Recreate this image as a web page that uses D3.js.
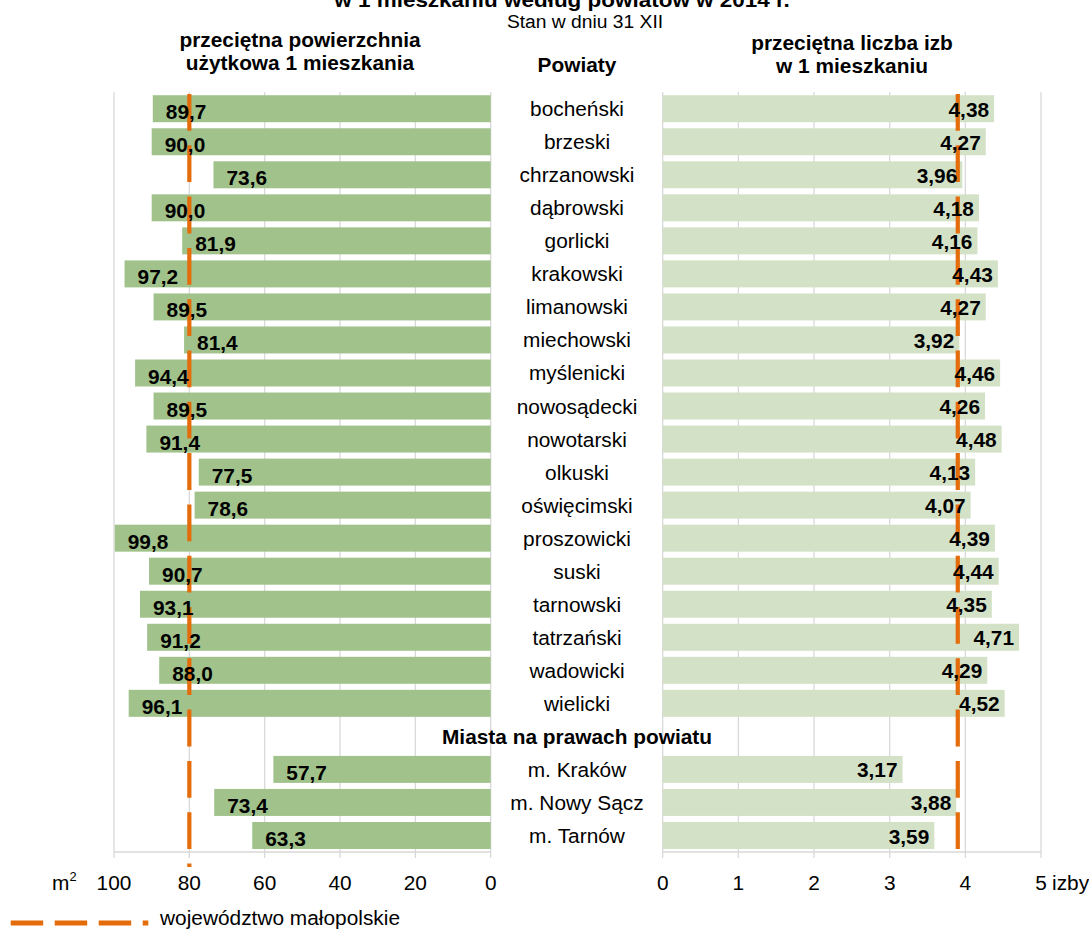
<!DOCTYPE html>
<html>
<head>
<meta charset="utf-8">
<script src="https://cdn.jsdelivr.net/npm/d3@7"></script>
<style>
  body { margin: 0; background: #fff; }
  svg { display: block; font-family: "Liberation Sans", Arial, sans-serif; }
</style>
</head>
<body>
<div id="chart"></div>
<script>
// powiaty (wiersz nagłówka miast ma wartość null)
const categories = [
  'bocheński', 'brzeski', 'chrzanowski', 'dąbrowski', 'gorlicki', 'krakowski',
  'limanowski', 'miechowski', 'myślenicki', 'nowosądecki', 'nowotarski', 'olkuski',
  'oświęcimski', 'proszowicki', 'suski', 'tarnowski', 'tatrzański', 'wadowicki',
  'wielicki', 'Miasta na prawach powiatu', 'm. Kraków', 'm. Nowy Sącz', 'm. Tarnów'
];
// przeciętna powierzchnia użytkowa 1 mieszkania, m2
const powierzchnia = [
  89.7, 90.0, 73.6, 90.0, 81.9, 97.2, 89.5, 81.4, 94.4, 89.5, 91.4, 77.5,
  78.6, 99.8, 90.7, 93.1, 91.2, 88.0, 96.1, null, 57.7, 73.4, 63.3
];
// przeciętna liczba izb w 1 mieszkaniu
const izby = [
  4.38, 4.27, 3.96, 4.18, 4.16, 4.43, 4.27, 3.92, 4.46, 4.26, 4.48, 4.13,
  4.07, 4.39, 4.44, 4.35, 4.71, 4.29, 4.52, null, 3.17, 3.88, 3.59
];
// województwo małopolskie
const avgPowierzchnia = 80.0;
const avgIzby = 3.9;

const ticksL = [100, 80, 60, 40, 20, 0];
const ticksR = [0, 1, 2, 3, 4, 5];

const width = 1089, height = 929;
const SX = 1.07;         // lekkie rozciągnięcie tekstu w poziomie
const FS = 19.5;
const orange = '#E46C0A';
const grid = '#D9D9D9';

const svg = d3.select('#chart').append('svg')
  .attr('width', width)
  .attr('height', height);

function txt(x, y, s, anchor, size, weight) {
  return svg.append('text')
    .attr('transform', `translate(${x},${y}) scale(${SX},1)`)
    .attr('text-anchor', anchor || 'middle')
    .attr('font-size', size || FS)
    .attr('font-weight', weight || 'normal')
    .attr('fill', '#000')
    .text(s);
}

const xL = d3.scaleLinear().domain([0, 100]).range([490.7, 114]);
const xR = d3.scaleLinear().domain([0, 5]).range([662.7, 1041]);
const y = d3.scaleBand().domain(categories).range([92.2, 852])
  .paddingInner(0.183).paddingOuter(0.0915);

const yTop = 92, yAxis = 852;

// siatka
svg.append('g').selectAll('line').data(ticksL).join('line')
  .attr('x1', d => xL(d)).attr('x2', d => xL(d))
  .attr('y1', yTop).attr('y2', yAxis + 6)
  .attr('stroke', grid).attr('stroke-width', 1.3);
svg.append('g').selectAll('line').data(ticksR).join('line')
  .attr('x1', d => xR(d)).attr('x2', d => xR(d))
  .attr('y1', yTop).attr('y2', yAxis + 6)
  .attr('stroke', grid).attr('stroke-width', 1.3);
svg.append('line').attr('x1', xL(100)).attr('x2', xL(0)).attr('y1', yAxis).attr('y2', yAxis)
  .attr('stroke', grid).attr('stroke-width', 1.5);
svg.append('line').attr('x1', xR(0)).attr('x2', xR(5)).attr('y1', yAxis).attr('y2', yAxis)
  .attr('stroke', grid).attr('stroke-width', 1.5);

const rows = categories.map((c, i) => ({ c, p: powierzchnia[i], z: izby[i] }));
const bars = rows.filter(d => d.p != null);

// słupki
svg.append('g').selectAll('rect').data(bars).join('rect')
  .attr('x', d => xL(d.p))
  .attr('y', d => y(d.c))
  .attr('width', d => xL(0) - xL(d.p))
  .attr('height', y.bandwidth())
  .attr('fill', '#A1C38B');
svg.append('g').selectAll('rect').data(bars).join('rect')
  .attr('x', xR(0))
  .attr('y', d => y(d.c))
  .attr('width', d => xR(d.z) - xR(0))
  .attr('height', y.bandwidth())
  .attr('fill', '#D3E2C6');

// średnia dla województwa
svg.append('line')
  .attr('x1', xL(avgPowierzchnia)).attr('x2', xL(avgPowierzchnia))
  .attr('y1', 94).attr('y2', 867)
  .attr('stroke', orange).attr('stroke-width', 4.2)
  .attr('stroke-dasharray', '36.8,14.5');
svg.append('line')
  .attr('x1', xR(avgIzby)).attr('x2', xR(avgIzby))
  .attr('y1', 94).attr('y2', 851)
  .attr('stroke', orange).attr('stroke-width', 4.2)
  .attr('stroke-dasharray', '36.8,14.5');

// etykiety wartości
const fmt1 = d3.format('.1f'), fmt2 = d3.format('.2f');
bars.forEach(d => {
  const cy = y(d.c) + y.bandwidth() / 2;
  txt(xL(d.p) + 13, cy + 3.5 + FS * 0.36, fmt1(d.p).replace('.', ','), 'start', FS, 'bold');
  txt(xR(d.z) - 5, cy + 1 + FS * 0.36, fmt2(d.z).replace('.', ','), 'end', FS, 'bold');
});

// nazwy powiatów
rows.forEach(d => {
  const cy = y(d.c) + y.bandwidth() / 2;
  txt(577, cy + 7.5, d.c, 'middle', FS, d.p == null ? 'bold' : 'normal');
});

// osie - opisy
ticksL.forEach(t => txt(xL(t), 890, t, 'middle', FS));
ticksR.forEach(t => txt(xR(t), 890, t, 'middle', FS));
const m2 = txt(52, 890, '', 'start', FS);
m2.append('tspan').text('m');
m2.append('tspan').attr('font-size', 12).attr('dy', -9).text('2');
txt(1052, 890, 'izby', 'start', FS);

// tytuły
txt(562, 7, 'w 1 mieszkaniu według powiatów w 2014 r.', 'middle', 21, 'bold');
txt(585, 28, 'Stan w dniu 31 XII', 'middle', 18);
txt(300, 47, 'przeciętna powierzchnia', 'middle', FS, 'bold');
txt(300, 70, 'użytkowa 1 mieszkania', 'middle', FS, 'bold');
txt(577, 72, 'Powiaty', 'middle', FS, 'bold');
txt(852, 50, 'przeciętna liczba izb', 'middle', FS, 'bold');
txt(852, 73, 'w 1 mieszkaniu', 'middle', FS, 'bold');

// legenda
svg.append('line')
  .attr('x1', 10.7).attr('x2', 148.3).attr('y1', 923).attr('y2', 923)
  .attr('stroke', orange).attr('stroke-width', 5)
  .attr('stroke-dasharray', '32.5,11.5');
txt(160, 925, 'województwo małopolskie', 'start', FS);
</script>
</body>
</html>
